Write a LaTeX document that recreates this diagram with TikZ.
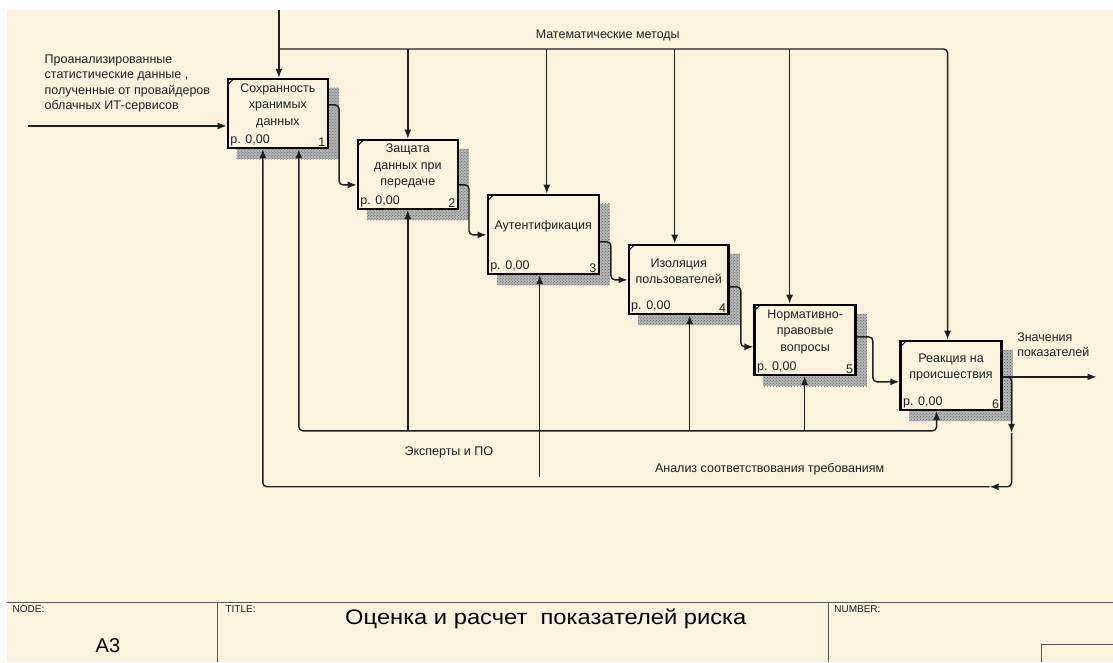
\documentclass[tikz,border=0pt]{standalone}
\usepackage{fontspec}
\setmainfont{Liberation Sans}
\usetikzlibrary{arrows.meta,positioning,calc,patterns,backgrounds}
\definecolor{paper}{HTML}{FCF3DF}
\definecolor{ink}{HTML}{202020}
\definecolor{hatch}{HTML}{505050}

\begin{document}
\begin{tikzpicture}[x=1pt,y=-1pt,>={Latex[length=9pt,width=7pt]},
  line width=1.4pt,color=ink,
  act/.style={draw=black,line width=2.4pt,fill=paper,inner sep=0pt,
    minimum width=100pt,minimum height=69pt},
  act name/.style={align=center,font=\fontsize{12.5}{16.5}\selectfont},
  cost/.style={anchor=south west,inner sep=3pt,font=\fontsize{12.5}{14}\selectfont},
  num/.style={anchor=south east,inner sep=3pt,font=\fontsize{12.5}{14}\selectfont},
  arrow label/.style={align=left,inner sep=0pt,font=\fontsize{12.5}{15.6}\selectfont},
  flow/.style={->,rounded corners=4pt},
  shade/.style={preaction={fill=black!28},pattern=crosshatch dots,pattern color=hatch},
  frame line/.style={draw=black!65,line width=1pt},
  frame tag/.style={anchor=west,inner sep=0pt,font=\fontsize{10}{12}\selectfont}]

% paper
\begin{scope}[on background layer]
  \fill[white] (0,0) rectangle (1113,662);
  \fill[paper] (7,10) rectangle (1113,662);
\end{scope}

% activity boxes
  \node[act] (b1) at (278,113.5) {};
  \node[act] (b2) at (408,174.5) {};
  \node[act,minimum width=111pt,minimum height=79pt] (b3) at (543.5,234.5) {};
  \node[act] (b4) at (679,279.5) {};
  \node[act,minimum width=101pt,minimum height=70pt] (b5) at (805.5,340) {};
  \node[act,minimum width=101pt] (b6) at (951.5,375.5) {};

  \node[act name] (n1) at ([yshift=8pt]b1.center) {Сохранность\\хранимых\\данных};
  \node[act name] (n2) at ([yshift=8pt]b2.center) {Защата\\данных при\\передаче};
  \node[act name] (n3) at ([yshift=8pt]b3.center) {Аутентификация};
  \node[act name] (n4) at ([yshift=8pt]b4.center) {Изоляция\\пользователей};
  \node[act name] (n5) at ([yshift=8pt]b5.center) {Нормативно-\\правовые\\вопросы};
  \node[act name] (n6) at ([yshift=8pt]b6.center) {Реакция на\\происшествия};

  \foreach \b/\i in {b1/1,b2/2,b3/3,b4/4,b5/5,b6/6} {
    \node[cost] (p\i) at ([yshift=-1pt]\b.south west) {р. 0,00};
    \node[num] (k\i) at ([yshift=-1pt]\b.south east) {\i};
    \draw[line width=1pt,black] ([shift={(1,7)}]\b.north west) -- ([shift={(7,1)}]\b.north west);
  }

% hatched shadows
\begin{scope}[on background layer]
  \foreach \b in {b1,b2,b3,b4,b5,b6}
    \fill[shade] ($(\b.south west)+(10,10)$) rectangle ($(\b.north east)+(10,10)$);
\end{scope}

% input
  \coordinate (src in) at (28,126);
  \draw[->] (src in) -- (src in -| b1.west);
  \node[arrow label] (lin) at (44,83.5) [anchor=west]
    {Проанализированные\\статистические данные ,\\полученные от провайдеров\\облачных ИТ-сервисов};

% box to box
  \draw[flow] ([yshift=8.5pt]b1.east) -- ++(10,0) |- ([yshift=-10.5pt]b2.west);
  \draw[flow] ([yshift=-10.5pt]b2.east) -- ++(10,0) |- ([yshift=-0.5pt]b3.west);
  \draw[flow] ([yshift=-7.5pt]b3.east) -- ++(11,0) |- ([yshift=-0.5pt]b4.west);
  \draw[flow] ([yshift=-7.5pt]b4.east) -- ++(11,0) |- ([yshift=-7pt]b5.west);
  \draw[flow] ([yshift=3pt]b5.east) -- ++(16,0) |- ([yshift=-6.5pt]b6.west);

% controls
  \coordinate (ctl in) at (279,10);
  \coordinate (ctl bus) at (279,49);
  \draw[->] (ctl in) -- (ctl in |- b1.north);
  \draw[flow] (ctl bus) -| ([xshift=-3.5pt]b6.north);
  \foreach \b/\dx in {b2/0,b3/3.5,b4/-4,b5/-15.5} {
    \coordinate (top) at ([xshift=\dx pt]\b.north);
    \draw[->] (top |- ctl bus) -- (top);
  }
  \node[arrow label] (lctl) at (608,35) {Математические методы};

% mechanisms
  \coordinate (mech in) at (540,477);
  \coordinate (mech bus) at (540,431);
  \draw[->] (mech in) -- (mech in |- b3.south);
  \draw[flow] (mech bus) -| ([xshift=21pt]b1.south);
  \draw[flow] (mech bus) -| ([xshift=-14.5pt]b6.south);
  \foreach \b/\dx in {b2/0,b4/11,b5/-0.5} {
    \coordinate (bot) at ([xshift=\dx pt]\b.south);
    \draw[->] (bot |- mech bus) -- (bot);
  }
  \node[arrow label] (lmech) at (449,453) {Эксперты и ПО};

% output and feedback
  \coordinate (out6) at ([yshift=-1.5pt]b6.east);
  \coordinate (res out) at (1097,377);
  \coordinate (fb down) at (1012,433);
  \coordinate (fb left) at (990,487);
  \draw[->] (out6) -- (res out);
  \draw[flow] (out6) -| (fb down);
  \draw[flow] (fb down) |- (fb left);
  \draw[flow] (fb left) -| ([xshift=-15pt]b1.south);
  \node[arrow label] (lout) at (1017,345) [anchor=west] {Значения\\показателей};
  \node[arrow label] (lfb) at (770,469) {Анализ соответствования требованиям};

% frame
  \draw[frame line] (7,603) -- (1113,603);
  \draw[frame line] (218,603) -- (218,662);
  \draw[frame line] (829,603) -- (829,662);
  \draw[frame line] (1113,645) -| (1042,662);
  \node[frame tag] (tnode) at (12,609) {NODE:};
  \node[frame tag] (ttitle) at (225,609) {TITLE:};
  \node[frame tag] (tnum) at (834,609) {NUMBER:};
  \node[font=\fontsize{20}{24}\selectfont,text=black] (vnode) at (108,646) {A3};
  \node[font=\fontsize{21}{24}\selectfont\addfontfeature{FakeStretch=1.13},text=black]
    (vtitle) at (546,619) {Оценка и расчет\ \ показателей риска};
\end{tikzpicture}
\end{document}
